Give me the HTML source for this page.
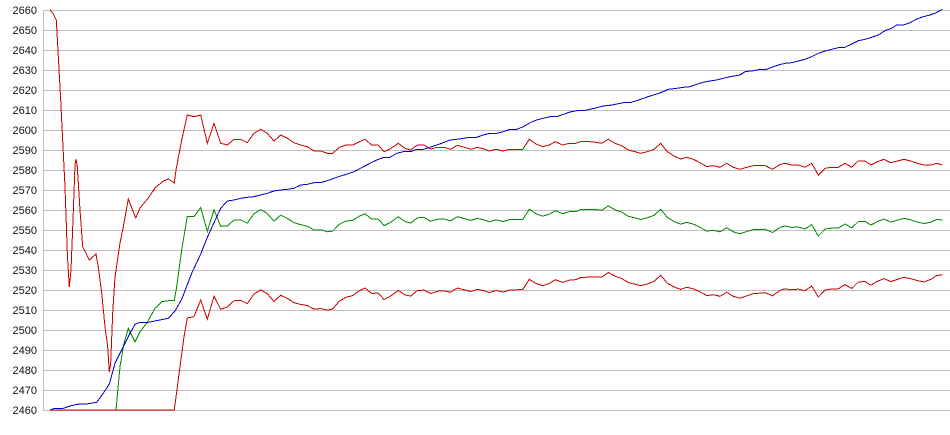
<!DOCTYPE html>
<html>
<head>
<meta charset="utf-8">
<style>
html,body{margin:0;padding:0;background:#fff;}
body{width:950px;height:435px;overflow:hidden;}
svg{display:block;}
text{font-family:"Liberation Sans",Arial,sans-serif;font-size:11px;fill:#111;}
</style>
</head>
<body>
<svg id="c" width="950" height="435" viewBox="0 0 950 435" xmlns="http://www.w3.org/2000/svg">
<g id="grid" stroke="#c0c0c0" stroke-width="1" shape-rendering="crispEdges"></g>
<g id="labels"></g>
<g id="series" fill="none" stroke-width="1" shape-rendering="crispEdges"></g>
</svg>
<script>
(function(){
var NS="http://www.w3.org/2000/svg";
var grid=document.getElementById("grid"),labels=document.getElementById("labels"),series=document.getElementById("series");
for(var k=0;k<=20;k++){
  var y=10+k*20;
  var l=document.createElementNS(NS,"line");
  l.setAttribute("x1",43);l.setAttribute("x2",950);l.setAttribute("y1",y+0.5);l.setAttribute("y2",y+0.5);
  grid.appendChild(l);
  var t=document.createElementNS(NS,"text");
  t.setAttribute("x",37);t.setAttribute("y",y+4);t.setAttribute("text-anchor","end");
  t.textContent=String(2660-k*10);
  labels.appendChild(t);
}
var ax=document.createElementNS(NS,"line");
ax.setAttribute("x1",43.5);ax.setAttribute("x2",43.5);ax.setAttribute("y1",10);ax.setAttribute("y2",411);
grid.appendChild(ax);

var upper=[[50,9.5],[53.3,14],[56.3,20],[60.7,100],[65,187],[67.3,253],[69.3,287],[71,270],[73,220],[75,165],[76,159],[77.3,167],[80,210],[82.7,247],[89.3,260],[96,254],[98.3,267],[101.7,293],[105,327],[107.7,347],[109.3,372],[110.7,363],[112.7,313],[115,277],[120,243],[123.3,227],[128.3,199],[135.7,218],[140,208],[148.3,198],[155,188],[163.3,181],[168.3,179],[174.3,183],[176,170],[181.7,140],[187.3,115],[194,116.7],[200.7,115],[207.3,143.3],[214,123.3],[220.7,143.3],[227.3,145],[234,139.3],[240.7,139.3],[247.3,142.7],[254,133.3],[260.7,129.3],[267.3,133.3],[274,141],[280.7,135],[287.3,138.3],[294,142.7],[300.7,145],[307.3,146.7],[314,151],[320.7,151],[327.3,153.3],[332.7,153.3],[339.3,147.3],[346,145],[352.7,145],[359.3,141.7],[365,139.3],[371.7,145],[378.3,145],[384,151.7],[390,149],[398.3,143.3],[405,148.3],[410.7,150],[417.3,145],[424,145],[430.7,149],[437.3,147.3],[444,147.3],[450.7,149.3],[457.3,145.3],[464,147.3],[470.7,149.3],[477.3,147.3],[484,149],[489.3,151],[496,149.3],[503.3,151],[509.3,149.3],[516,149.3],[522.7,149.3],[529.3,139.3],[536,144],[542.7,146.7],[549.3,145],[555.3,141.7],[562.7,145],[569.3,143.3],[576,143.3],[580.7,141.7],[590,141.7],[596,142.3],[601.7,143.3],[608.3,139.3],[615,143.3],[621.7,145.7],[628.3,150],[635,151.7],[640.7,153.3],[647.3,151.7],[654,149.3],[660.7,143.3],[667.3,151.7],[674,156],[680.7,159],[686.7,157.3],[693.3,159.3],[700,162.7],[706.7,166.7],[713.3,165.7],[720,167.3],[726.7,163.3],[733.3,167.3],[740,169.3],[746.7,167.3],[753.3,165.7],[759,165.7],[765,165.7],[772.7,169.3],[780,164.5],[785,163.3],[791.7,165],[798.3,165],[805,167.3],[811.7,163.3],[818.3,175],[825,168.3],[831.7,167.3],[838.3,167.3],[845,163.3],[851.7,167.3],[858.3,161],[865,161],[870.7,165],[877.3,161.7],[884,159.3],[890.7,162.7],[897.3,161],[904,159.3],[910.7,161],[917.3,163.3],[924,165],[930.7,165],[936.7,163.3],[942.3,165]];

var gtab=[[187,101.5],[194,100],[200.7,92.5],[207.3,88],[214,86.5],[220.7,83],[227.3,81],[240,80.5],[294,80],[327,78.5],[359,74.5],[400,73.5],[450,71.5],[530,70],[590,67.6],[610,66.5],[660,66],[700,64.5],[740,64.5],[786,62.7],[818,61],[858,60.5],[904,59],[924,58.5],[942.3,55]];
function g(x){
  if(x<=gtab[0][0])return gtab[0][1];
  for(var i=1;i<gtab.length;i++){
    if(x<=gtab[i][0]){var a=gtab[i-1],b=gtab[i];return a[1]+(b[1]-a[1])*(x-a[0])/(b[0]-a[0]);}
  }
  return gtab[gtab.length-1][1];
}
var green=[[50,410],[116,410],[120,366.7],[124,343.3],[128.3,328.3],[135,341.7],[140,331.7],[146.7,323.3],[155,308.3],[161.7,301.7],[168.3,300.7],[174.3,300.7],[176.7,286.7],[181.7,250]];
var lower=[[50,410],[174.3,410],[180,366.7],[184,336.7]];
upper.forEach(function(p){
  if(p[0]>=187){
    var d=g(p[0]);
    green.push([p[0],p[1]+d]);
    lower.push([p[0],p[1]+2*d]);
  }
});
var blue=[[50,410],[55,408.3],[63.3,408.3],[70,406],[76.7,404.3],[86.7,404],[96.7,402.3],[103.3,393.3],[109.3,384],[115,363.3],[123.3,346.7],[130,333.3],[135,324.3],[140,322.3],[148.3,322.3],[160,320],[168.3,318.3],[175,311],[181.7,299.3],[191.7,273.3],[200.7,254],[207.3,237.3],[214,222.7],[220.7,208.3],[227.3,201],[234,200],[240.7,198.3],[247.3,197.3],[254,196.7],[260.7,195],[267.3,193.3],[274,191],[280.7,190],[287.3,189.3],[294,188.3],[300.7,185],[307.3,184.3],[314,182.7],[320.7,182.7],[327.3,180.7],[334,178.3],[340.7,176],[347.3,174],[354,171.7],[360,168.5],[370,163.3],[376.7,160],[384,157.3],[390,157.3],[396.7,153.3],[403.3,151.7],[410.7,151.7],[416.7,149.3],[423.3,149.3],[430,147.3],[436.7,145],[443.3,142.7],[450,140],[456.7,139.3],[463.3,138.3],[470,137.3],[476.7,137.3],[483.3,135],[490,133.3],[496.7,133.3],[503.3,131.7],[510,129.3],[516.7,129.3],[523.3,126.7],[530,122.7],[536.7,120],[543.3,118.3],[550,116.7],[556.7,116.7],[563.3,114.3],[570,112],[576.7,110.7],[583.3,110.7],[590,109.3],[596.7,107.7],[603.3,106],[610,105.3],[616.7,104],[623.3,102.7],[630,102.7],[636.7,100.7],[643.3,98.3],[650,96],[656.7,94],[663.3,91.7],[668.3,89.3],[676.7,88.3],[683.3,87.3],[690,86.7],[696.7,84.3],[703.3,82.3],[710,81],[716.7,80],[723.3,78.3],[730,76.7],[740,75],[745,71.7],[753.3,70.7],[760,69.3],[766.7,69.3],[773.3,66.7],[780,64.5],[786.7,63],[791.7,62.7],[798.3,61],[805,59.3],[811.7,56.7],[818.3,53.3],[825,51],[831.7,49.3],[838.3,47.7],[845,47.3],[851.7,44],[858.3,40.7],[865,39.3],[871.7,37.3],[878.3,35],[885,30.7],[891.7,28.3],[896.7,25],[903.3,25],[910,22.7],[916.7,19],[923.3,16.7],[930,15],[935,13.3],[942.3,9.3]];

function add(pts,color){
  var p=document.createElementNS(NS,"polyline");
  p.setAttribute("points",pts.map(function(q){return q[0].toFixed(1)+","+q[1].toFixed(1);}).join(" "));
  p.setAttribute("stroke",color);
  series.appendChild(p);
}
add(green,"#008800");
add(blue,"#0000cc");
add(upper,"#cc0000");
add(lower,"#cc0000");
})();
</script>
</body>
</html>
